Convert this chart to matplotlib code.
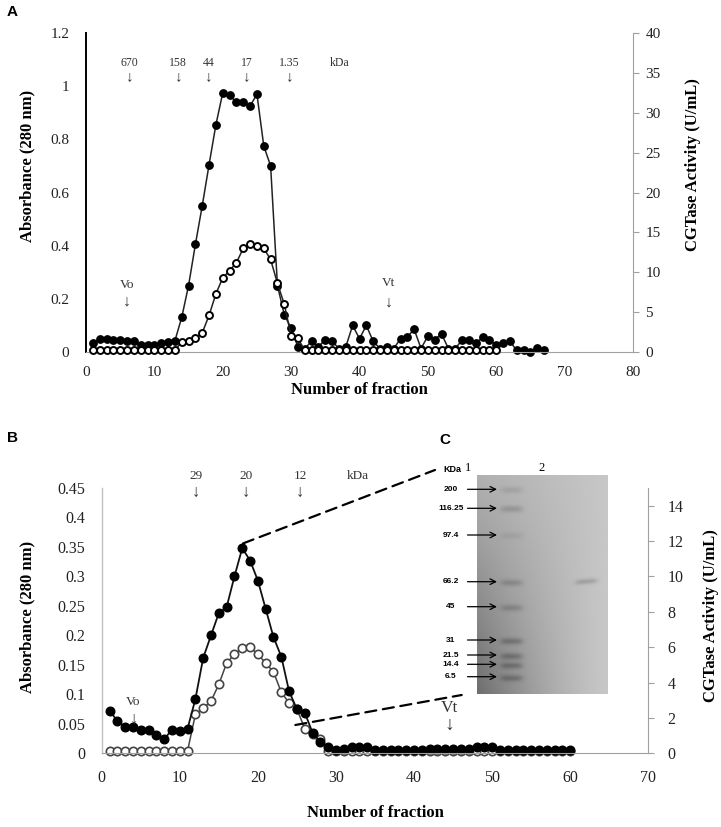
import numpy as np
import matplotlib
matplotlib.use("Agg")
import matplotlib.pyplot as plt
from matplotlib.patches import ConnectionPatch
from matplotlib.ticker import FuncFormatter

plt.rcParams['font.family'] = ['Liberation Serif', 'DejaVu Serif']

# ---------------- data ----------------
# panel A: gel filtration, absorbance (filled) and CGTase activity (open)
frac_a_abs = list(range(1, 68))
abs_a = [0.032, 0.05, 0.05, 0.045, 0.045, 0.04, 0.04, 0.025, 0.025, 0.028,
         0.032, 0.038, 0.042, 0.13, 0.25, 0.405, 0.55, 0.705, 0.855, 0.975,
         0.965, 0.94, 0.94, 0.925, 0.97, 0.775, 0.70, 0.25, 0.14, 0.09,
         0.018, 0.012, 0.042, 0.02, 0.047, 0.04, 0.013, 0.02, 0.10, 0.05,
         0.10, 0.04, 0.013, 0.02, 0.013, 0.05, 0.058, 0.085, 0.013, 0.06,
         0.047, 0.068, 0.013, 0.013, 0.045, 0.045, 0.033, 0.055, 0.047, 0.025,
         0.035, 0.04, 0.006, 0.006, 0.0, 0.015, 0.006]
frac_a_act = list(range(1, 61))
act_a = [0.2] * 13 + [1.25, 1.35, 1.8, 2.4, 4.6, 7.3, 9.3, 10.2, 11.2, 13.0,
                      13.5, 13.3, 13.0, 11.6, 8.6, 6.0, 2.0, 1.7] + [0.2] * 29

marker_kda_a = ["670", "158", "44", "17", "1.35"]
marker_frac_a = [6.4, 13.5, 17.9, 23.5, 29.8]

# panel B: second column
frac_b = list(range(1, 61))
abs_b = [0.0725, 0.055, 0.045, 0.045, 0.04, 0.04, 0.031, 0.024, 0.04, 0.037,
         0.042, 0.092, 0.162, 0.20, 0.238, 0.248, 0.30, 0.348, 0.327, 0.293,
         0.245, 0.197, 0.164, 0.105, 0.075, 0.069, 0.035, 0.02, 0.011, 0.006,
         0.008, 0.01, 0.01, 0.011, 0.006, 0.005, 0.005, 0.005, 0.005, 0.005,
         0.005, 0.007, 0.007, 0.007, 0.007, 0.007, 0.008, 0.01, 0.01, 0.011,
         0.005, 0.005, 0.005, 0.005, 0.005, 0.006, 0.006, 0.006, 0.006, 0.006]
act_b = [0.15] * 11 + [2.2, 2.55, 2.95, 3.9, 5.1, 5.6, 5.95, 6.0, 5.6, 5.1,
                       4.6, 3.45, 2.85, 2.5, 1.4, 1.1, 0.8] + [0.15] * 32

marker_kda_b = ["29", "20", "12"]
marker_frac_b = [12.1, 18.5, 25.4]

# panel C: SDS-PAGE marker lane
gel_markers = ["200", "116.25", "97.4", "66.2", "45", "31", "21.5", "14.4", "6.5"]

# ---------------- figure ----------------
W, H = 721, 827
fig = plt.figure(figsize=(W / 100, H / 100), dpi=100)


def fx(px):
    return px / W


def fy(py):
    return 1 - py / H


fmt = FuncFormatter(lambda v, p: "{:g}".format(round(v, 3)))
arrow_fonts = ['Liberation Serif', 'DejaVu Serif', 'DejaVu Sans']
txt_col = '#333333'


def style_axes(ax, ax2, left_col, tick_fs):
    ax.spines['top'].set_visible(False)
    ax.spines['right'].set_visible(False)
    ax.spines['left'].set_color(left_col)
    ax.spines['left'].set_linewidth(1.4 if left_col == 'black' else 1.0)
    ax.spines['bottom'].set_color('#a0a0a0')
    ax2.spines['top'].set_visible(False)
    ax2.spines['left'].set_visible(False)
    ax2.spines['bottom'].set_visible(False)
    ax2.spines['right'].set_color('#a0a0a0')
    ax.tick_params(axis='both', length=0, labelsize=tick_fs, colors='#222222')
    ax.tick_params(axis='y', pad=12)
    ax.tick_params(axis='x', pad=10)
    ax2.tick_params(axis='y', length=4, color='#a0a0a0', labelsize=tick_fs,
                    labelcolor='#222222', pad=5)
    ax.yaxis.set_major_formatter(fmt)


# ---- panel A ----
axA = fig.add_axes([fx(86), fy(352), fx(633 - 86), (352 - 33) / H])
axA2 = axA.twinx()
axA.plot(frac_a_abs, abs_a, '-o', color='#222222', lw=1.1, ms=5.3,
         mfc='black', mec='black', clip_on=False)
axA2.plot(frac_a_act, act_a, '-o', color='#222222', lw=1.1, ms=5.0,
          mfc='white', mec='black', mew=1.4, clip_on=False)
axA.set_xlim(0, 80)
axA.set_ylim(0, 1.2)
axA2.set_ylim(0, 40)
axA.set_xticks(range(0, 81, 10))
axA.set_yticks(np.arange(0, 1.21, 0.2))
axA2.set_yticks(range(0, 41, 5))
style_axes(axA, axA2, 'black', 11)
axA.set_xlabel("Number of fraction", fontsize=12, fontweight='bold')
axA.xaxis.set_label_coords(0.5, -0.094)
axA.set_ylabel("Absorbance (280 nm)", fontsize=12, fontweight='bold')
axA.yaxis.set_label_coords(-0.093, 0.583)
axA2.set_ylabel("CGTase Activity (U/mL)", fontsize=12, fontweight='bold')
axA2.yaxis.set_label_coords(1.095, 0.588)

for lab, xv in zip(marker_kda_a, marker_frac_a):
    axA.text(xv, 1.089, lab, ha='center', va='center', fontsize=8.5, color=txt_col)
    axA.text(xv, 1.035, "\u2193", ha='center', va='center', fontsize=11,
             color=txt_col, family=arrow_fonts)
axA.text(37.1, 1.089, "kDa", ha='center', va='center', fontsize=8.5, color=txt_col)
axA.text(5.95, 0.251, "Vo", ha='center', va='center', fontsize=9.5, color=txt_col)
axA.text(5.95, 0.191, "\u2193", ha='center', va='center', fontsize=11.5,
         color=txt_col, family=arrow_fonts)
axA.text(44.3, 0.258, "Vt", ha='center', va='center', fontsize=9.5, color=txt_col)
axA.text(44.3, 0.188, "\u2193", ha='center', va='center', fontsize=11.5,
         color=txt_col, family=arrow_fonts)

# ---- panel B ----
axB = fig.add_axes([fx(101.7), fy(753.3), fx(648.3 - 101.7), (753.3 - 488) / H])
axB2 = axB.twinx()
axB.set_zorder(axB2.get_zorder() + 1)
axB.patch.set_visible(False)
axB2.plot(frac_b, act_b, '-o', color='#444444', lw=1.1, ms=6.0,
          mfc='white', mec='#444444', mew=1.2, clip_on=False)
axB.plot(frac_b, abs_b, '-o', color='#111111', lw=1.3, ms=6.2,
         mfc='black', mec='black', clip_on=False)
axB.set_xlim(0, 70)
axB.set_ylim(0, 0.45)
axB2.set_ylim(0, 15)
axB.set_xticks(range(0, 71, 10))
axB.set_yticks(np.arange(0, 0.451, 0.05))
axB2.set_yticks(range(0, 15, 2))
style_axes(axB, axB2, '#c0c0c0', 11.5)
axB2.tick_params(axis='y', pad=10)
axB.tick_params(axis='x', pad=12)
axB.set_xlabel("Number of fraction", fontsize=12, fontweight='bold')
axB.xaxis.set_label_coords(0.5, -0.195)
axB.set_ylabel("Absorbance (280 nm)", fontsize=12, fontweight='bold')
axB.yaxis.set_label_coords(-0.122, 0.515)
axB2.set_ylabel("CGTase Activity (U/mL)", fontsize=12, fontweight='bold')
axB2.yaxis.set_label_coords(1.100, 0.519)

for lab, xv in zip(marker_kda_b, marker_frac_b):
    axB.text(xv, 0.471, lab, ha='center', va='center', fontsize=9.5, color=txt_col)
    axB.text(xv, 0.442, "\u2193", ha='center', va='center', fontsize=12,
             color=txt_col, family=arrow_fonts)
axB.text(32.8, 0.471, "kDa", ha='center', va='center', fontsize=9.5, color=txt_col)
axB.text(4.05, 0.0877, "Vo", ha='center', va='center', fontsize=9.5, color=txt_col)
axB.text(4.1, 0.0566, "\u2193", ha='center', va='center', fontsize=12,
         color=txt_col, family=arrow_fonts)
axB.text(44.5, 0.0764, "Vt", ha='center', va='center', fontsize=12.5, color=txt_col)
axB.text(44.5, 0.048, "\u2193", ha='center', va='center', fontsize=14,
         color=txt_col, family=arrow_fonts)

# ---- panel C: gel picture ----
axC = fig.add_axes([fx(430), fy(700), fx(620 - 430), (700 - 455) / H])
axC.axis('off')
axC.set_zorder(5)

gx0, gx1, gy0, gy1 = 477.5, 608.3, 475.0, 693.5
gw, gh = int(gx1 - gx0), int(gy1 - gy0)
cols, rows = np.meshgrid(np.linspace(0, 1, gw), np.linspace(0, 1, gh))
gel = 0.69 + 0.09 * cols - 0.26 * (1 - cols) ** 1.5 * rows ** 1.1
band_rows = [489.3, 508.3, 535.0, 581.7, 606.7, 640.0, 655.0, 664.3, 676.7]
band_depth = [0.07, 0.11, 0.05, 0.11, 0.11, 0.15, 0.15, 0.15, 0.14]
xx = np.arange(gw)[None, :] + gx0
yy = np.arange(gh)[:, None] + gy0
for by, d in zip(band_rows, band_depth):
    gel -= d * np.exp(-((xx - 511.5) / 11.0) ** 4) * np.exp(-((yy - by) / 3.2) ** 2)
gel -= 0.13 * np.exp(-((xx - 585.5) / 11.0) ** 4) * \
    np.exp(-((yy - (580.5 - 0.08 * (xx - 585.5))) / 2.6) ** 2)
axC.imshow(gel, cmap='gray', vmin=0, vmax=1, extent=(gx0, gx1, gy1, gy0),
           aspect='auto', interpolation='bicubic')
axC.set_xlim(430, 620)
axC.set_ylim(700, 455)

for lab, by in zip(gel_markers, band_rows):
    axC.text(451, by, lab, ha='center', va='center', fontsize=6,
             fontweight='bold', family='Liberation Sans')
    axC.annotate('', xy=(497, by), xytext=(467.5, by),
                 arrowprops=dict(arrowstyle='->', lw=0.9, color='black',
                                 shrinkA=0, shrinkB=0))
axC.text(452, 469.3, "KDa", ha='center', va='center', fontsize=6.5,
         fontweight='bold', family='Liberation Sans')
axC.text(468.3, 467.5, "1", ha='center', va='center', fontsize=9)
axC.text(541.7, 467.5, "2", ha='center', va='center', fontsize=9)

# dashed zoom lines from the peak of B to the gel
for xyA, xyB in [((18.1, 0.356), (fx(435), fy(470))),
                 ((24.8, 0.048), (fx(461.7), fy(695)))]:
    con = ConnectionPatch(xyA=xyA, coordsA=axB.transData, xyB=xyB,
                          coordsB='figure fraction', ls=(0, (5, 3)), lw=1.6,
                          color='black')
    fig.add_artist(con)

# panel letters
fig.text(fx(12.5), fy(12.5), "A", ha='center', va='center', fontsize=11,
         fontweight='bold', family='Liberation Sans')
fig.text(fx(12), fy(437.5), "B", ha='center', va='center', fontsize=11,
         fontweight='bold', family='Liberation Sans')
fig.text(fx(445), fy(440), "C", ha='center', va='center', fontsize=11,
         fontweight='bold', family='Liberation Sans')

fig.savefig("out.png", dpi=100)
